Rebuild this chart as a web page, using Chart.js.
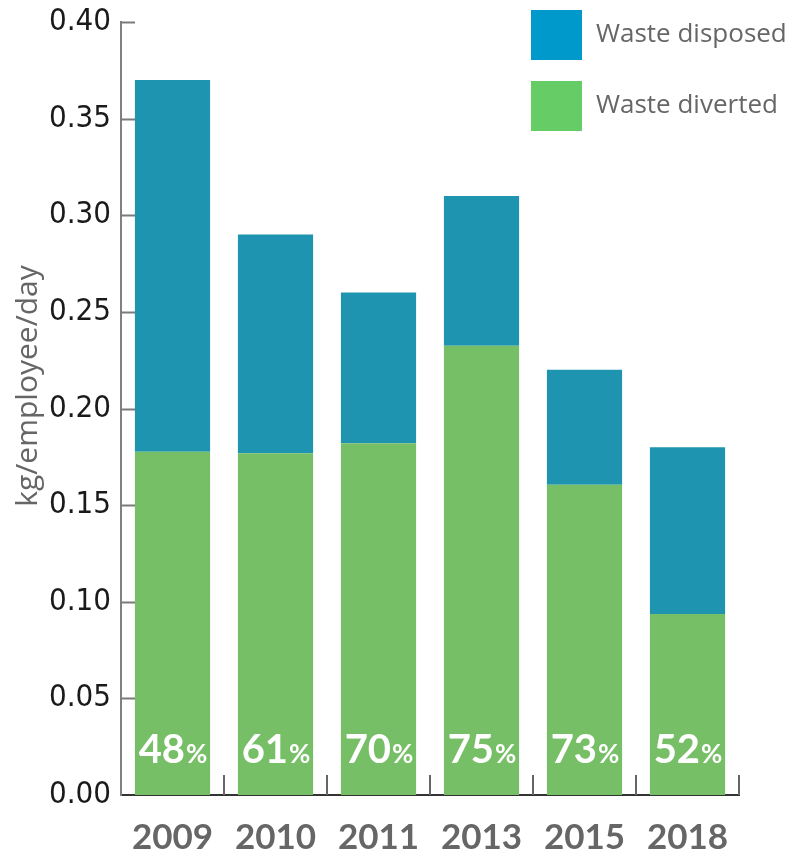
<!DOCTYPE html>
<html>
<head>
<meta charset="utf-8">
<script src="https://cdn.jsdelivr.net/npm/chart.js@4.4.1/dist/chart.umd.min.js"></script>
<style>
  html, body { margin: 0; padding: 0; background: #fff; }
  #wrap { width: 805px; height: 855px; }
</style>
</head>
<body>
<div id="wrap"><canvas id="wasteChart" width="805" height="855"></canvas></div>
<script>
const years = ["2009", "2010", "2011", "2013", "2015", "2018"];
const totalWaste = [0.37, 0.29, 0.26, 0.31, 0.22, 0.18];
const divertedPct = [48, 61, 70, 75, 73, 52];
const yTicks = [0, 0.05, 0.10, 0.15, 0.20, 0.25, 0.30, 0.35, 0.40];

const diverted = totalWaste.map((t, i) => +(t * divertedPct[i] / 100).toFixed(4));
const disposed = totalWaste.map((t, i) => +(t - diverted[i]).toFixed(4));

const legendItems = [
  { label: "Waste disposed", color: "#0099cc" },
  { label: "Waste diverted", color: "#66cc66" }
];

// inward ticks on the y axis, upward ticks between years on the x axis
const axisTicks = {
  id: "axisTicks",
  afterDraw(chart) {
    const ctx = chart.ctx;
    const x = chart.scales.x, y = chart.scales.y;
    const area = chart.chartArea;
    ctx.save();
    ctx.strokeStyle = "#7a7a7a";
    ctx.lineWidth = 2;
    yTicks.forEach(v => {
      if (v === 0) return;
      const py = Math.round(y.getPixelForValue(v)) + 0.5;
      ctx.beginPath();
      ctx.moveTo(area.left, py);
      ctx.lineTo(area.left + 14, py);
      ctx.stroke();
    });
    ctx.strokeStyle = "#666";
    for (let i = 1; i <= years.length; i++) {
      const px = Math.round(x.getPixelForValue(i - 0.5));
      ctx.beginPath();
      ctx.moveTo(px, area.bottom);
      ctx.lineTo(px, area.bottom - 20);
      ctx.stroke();
    }
    ctx.restore();
  }
};

// white percentage inside each bar
const pctLabels = {
  id: "pctLabels",
  afterDatasetsDraw(chart) {
    const ctx = chart.ctx;
    const bars = chart.getDatasetMeta(0).data;
    const base = chart.chartArea.bottom - 32;
    ctx.save();
    ctx.fillStyle = "#fff";
    ctx.textBaseline = "alphabetic";
    ctx.textAlign = "left";
    bars.forEach((bar, i) => {
      const num = String(divertedPct[i]);
      ctx.font = "bold 40px Lato";
      const w1 = ctx.measureText(num).width;
      ctx.font = "bold 26px Lato";
      const w2 = ctx.measureText("%").width;
      const start = bar.x - (w1 + w2) / 2;
      ctx.font = "bold 40px Lato";
      ctx.fillText(num, start, base);
      ctx.font = "bold 26px Lato";
      ctx.fillText("%", start + w1 + 1, base);
    });
    ctx.restore();
  }
};

// legend boxes in the top right corner
const boxLegend = {
  id: "boxLegend",
  afterDraw(chart) {
    const ctx = chart.ctx;
    ctx.save();
    legendItems.forEach((item, i) => {
      const top = 10 + i * 71;
      ctx.fillStyle = item.color;
      ctx.fillRect(531, top, 51, 50);
      ctx.fillStyle = "#666";
      ctx.font = "26px 'Open Sans'";
      ctx.textBaseline = "middle";
      ctx.fillText(item.label, 596, top + 25);
    });
    ctx.restore();
  }
};

// y axis title, drawn a little above the centre of the axis
const yTitle = {
  id: "yTitle",
  afterDraw(chart) {
    const ctx = chart.ctx;
    ctx.save();
    ctx.translate(28, 386);
    ctx.rotate(-Math.PI / 2);
    ctx.fillStyle = "#666";
    ctx.font = "30px 'Open Sans'";
    ctx.textAlign = "center";
    ctx.textBaseline = "middle";
    ctx.fillText("kg/employee/day", 0, 0);
    ctx.restore();
  }
};

const chart = new Chart(document.getElementById("wasteChart"), {
  type: "bar",
  data: {
    labels: years,
    datasets: [
      {
        label: "Waste diverted",
        data: diverted,
        backgroundColor: "#76bf66",
        categoryPercentage: 0.73,
        barPercentage: 1
      },
      {
        label: "Waste disposed",
        data: disposed,
        backgroundColor: "#1f94b1",
        categoryPercentage: 0.73,
        barPercentage: 1
      }
    ]
  },
  options: {
    responsive: false,
    animation: false,
    layout: { padding: { left: 0, top: 22, right: 66, bottom: 0 } },
    plugins: {
      legend: { display: false },
      tooltip: { enabled: false }
    },
    scales: {
      x: {
        stacked: true,
        grid: { display: false },
        border: { display: true, color: "#333", width: 2 },
        ticks: {
          color: "#666",
          font: { family: "Lato", weight: "bold", size: 35 },
          padding: 14
        },
        afterFit(scale) { scale.height = 60; }
      },
      y: {
        stacked: true,
        min: 0,
        max: 0.40,
        grid: { display: false },
        border: { display: true, color: "#808080", width: 2 },
        afterBuildTicks(scale) {
          scale.ticks = yTicks.map(v => ({ value: v }));
        },
        ticks: {
          color: "#1a1a1a",
          padding: 2,
          font: { family: "'DejaVu Sans Condensed', sans-serif", size: 31 },
          callback: v => v.toFixed(2)
        },
        afterFit(scale) {
          scale.width = 121;
          scale.paddingTop = 0;
          scale.paddingBottom = 0;
        }
      }
    }
  },
  plugins: [axisTicks, pctLabels, boxLegend, yTitle]
});
</script>
</body>
</html>
